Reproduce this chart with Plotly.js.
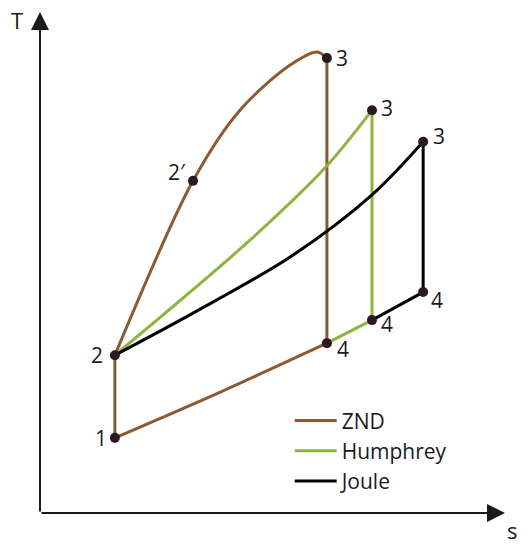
<!DOCTYPE html>
<html>
<head>
<meta charset="utf-8">
<script src="https://cdn.plot.ly/plotly-3.0.1.min.js"></script>
<style>
  html, body { margin: 0; padding: 0; background: #fff; }
  #chart { width: 531px; height: 550px; }
</style>
</head>
<body>
<div id="chart"></div>
<script>
// T-s diagram, arbitrary units (axis origin at 0,0)

// ZND cycle, split into segments (null = break so corners stay sharp)
let zndS = [1.61, 1.61, null,
            1.61, 3.29, 4.30, 5.38, 5.96, 6.17, null,
            6.17, 6.17, null,
            6.17, 3.89, 1.61];
let zndT = [1.50, 3.15, null,
            3.15, 6.63, 8.04, 8.94, 9.20, 9.08, null,
            9.08, 3.39, null,
            3.39, 2.42, 1.50];

// Humphrey cycle: 2 -> 3 -> 4 -> ZND state 4
let humS = [1.61, 4.52, 6.17, 7.14, null, 7.14, 7.14, null, 7.14, 6.17];
let humT = [3.15, 5.45, 6.93, 8.04, null, 8.04, 3.85, null, 3.85, 3.39];

// Joule cycle: 2 -> 3 -> 4 -> Humphrey state 4
let jouS = [1.61, 3.29, 5.38, 7.14, 8.24, null, 8.24, 8.24, null, 8.24, 7.14];
let jouT = [3.15, 3.99, 5.11, 6.35, 7.41, null, 7.41, 4.41, null, 4.41, 3.85];

// state points and their labels
let ptS = [1.61, 1.61, 3.29, 6.17, 6.17, 7.14, 7.14, 8.24, 8.24];
let ptT = [1.50, 3.15, 6.63, 9.08, 3.39, 8.04, 3.85, 7.41, 4.41];
let ptLabels = ["1", "2", "2′", "3", "4", "3", "4", "3", "4"];
let ptDx = [-14, -18, -16, 15, 16, 15, 15, 16, 14];
let ptDy = [0, 0, 9, 0, -6, 2, -4, 6, -8];

let FONT = "Open Sans, DejaVu Sans, sans-serif";
let INK = "#1a1a1a";

let znd = {
    x: zndS, y: zndT, mode: "lines", name: "ZND",
    line: {color: "#8b5a33", width: 3, shape: "spline", smoothing: 0.9},
    connectgaps: false
};
let humphrey = {
    x: humS, y: humT, mode: "lines", name: "Humphrey",
    line: {color: "#8db441", width: 3, shape: "spline", smoothing: 0.9},
    connectgaps: false
};
let joule = {
    x: jouS, y: jouT, mode: "lines", name: "Joule",
    line: {color: "#000000", width: 3, shape: "spline", smoothing: 0.9},
    connectgaps: false
};
let points = {
    x: ptS, y: ptT, mode: "markers",
    marker: {color: "#2a1b1e", size: 10},
    showlegend: false, hoverinfo: "skip"
};

let annotations = [
    // axes with arrowheads
    {x: 10, y: 0, ax: 0, ay: 0, xref: "x", yref: "y", axref: "x", ayref: "y",
     text: "", showarrow: true, arrowhead: 2, arrowsize: 1.8, arrowwidth: 2, arrowcolor: INK},
    {x: 0, y: 10, ax: 0, ay: 0, xref: "x", yref: "y", axref: "x", ayref: "y",
     text: "", showarrow: true, arrowhead: 2, arrowsize: 1.8, arrowwidth: 2, arrowcolor: INK},
    {x: -0.049, y: 0.984, xref: "paper", yref: "paper", xanchor: "center", yanchor: "middle",
     text: "T", showarrow: false, font: {family: FONT, size: 22, color: INK}},
    {x: 1.015, y: -0.034, xref: "paper", yref: "paper", xanchor: "center", yanchor: "middle",
     text: "s", showarrow: false, font: {family: FONT, size: 22, color: INK}}
];
for (let i = 0; i < ptS.length; i++) {
    annotations.push({
        x: ptS[i], y: ptT[i], xref: "x", yref: "y", text: ptLabels[i], showarrow: false,
        xanchor: "center", yanchor: "middle", xshift: ptDx[i], yshift: ptDy[i],
        font: {family: FONT, size: 21, color: INK}
    });
}

let layout = {
    width: 531,
    height: 550,
    margin: {l: 40, r: 26, t: 12, b: 37},
    paper_bgcolor: "#ffffff",
    plot_bgcolor: "#ffffff",
    font: {family: FONT, size: 21, color: INK},
    xaxis: {range: [0, 10], visible: false, fixedrange: true},
    yaxis: {range: [0, 10], visible: false, fixedrange: true},
    showlegend: true,
    legend: {
        x: 0.537, y: 0.225, xanchor: "left", yanchor: "top",
        bgcolor: "rgba(0,0,0,0)", font: {family: FONT, size: 21, color: INK},
        traceorder: "normal", itemwidth: 42
    },
    annotations: annotations
};

Plotly.newPlot("chart", [znd, humphrey, joule, points], layout, {displayModeBar: false, staticPlot: true});
</script>
</body>
</html>
